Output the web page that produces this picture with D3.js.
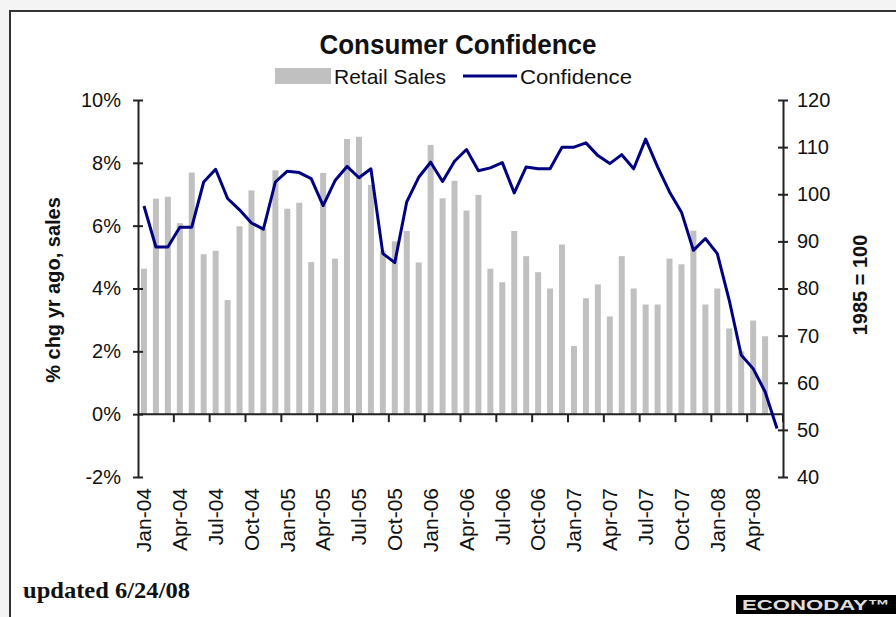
<!DOCTYPE html>
<html>
<head>
<meta charset="utf-8">
<script src="https://cdn.jsdelivr.net/npm/d3@7"></script>
<style>
  body { margin: 0; background: #f4f4f4; }
  svg { display: block; }
  svg text { font-family: "Liberation Sans", Arial, sans-serif; fill: #111; }
</style>
</head>
<body>
<svg></svg>
<script>
let months = [
  'Jan-04','Feb-04','Mar-04','Apr-04','May-04','Jun-04','Jul-04','Aug-04','Sep-04','Oct-04','Nov-04','Dec-04',
  'Jan-05','Feb-05','Mar-05','Apr-05','May-05','Jun-05','Jul-05','Aug-05','Sep-05','Oct-05','Nov-05','Dec-05',
  'Jan-06','Feb-06','Mar-06','Apr-06','May-06','Jun-06','Jul-06','Aug-06','Sep-06','Oct-06','Nov-06','Dec-06',
  'Jan-07','Feb-07','Mar-07','Apr-07','May-07','Jun-07','Jul-07','Aug-07','Sep-07','Oct-07','Nov-07','Dec-07',
  'Jan-08','Feb-08','Mar-08','Apr-08','May-08','Jun-08'
]

// retail sales, % chg yr ago (no figure yet for Jun-08)
let retail = [
  4.63, 6.86, 6.92, 6.08, 7.69, 5.09, 5.20, 3.63, 5.98, 7.12, 5.90, 7.76,
  6.54, 6.73, 4.84, 7.68, 4.95, 8.76, 8.83, 7.30, 5.20, 5.50, 5.83, 4.83,
  8.57, 6.87, 7.43, 6.48, 6.98, 4.63, 4.20, 5.83, 5.03, 4.52, 4.00, 5.40,
  2.17, 3.69, 4.13, 3.11, 5.03, 4.00, 3.49, 3.49, 4.95, 4.77, 5.84, 3.49,
  4.00, 2.73, 2.00, 2.98, 2.48, null
]

// consumer confidence, 1985 = 100
let confidence = [
  97.5, 88.8, 88.8, 93.0, 93.0, 102.6, 105.3, 99.1, 96.7, 93.9, 92.6, 102.6,
  104.9, 104.6, 103.3, 97.6, 102.9, 105.9, 103.5, 105.4, 87.4, 85.5, 98.4, 103.6,
  106.8, 102.7, 107.0, 109.5, 105.0, 105.6, 106.7, 100.3, 105.8, 105.4, 105.4, 110.0,
  110.0, 110.9, 108.2, 106.5, 108.4, 105.4, 111.7, 105.8, 100.5, 96.2, 88.1, 90.6,
  87.4, 77.5, 65.9, 63.0, 58.1, 50.3
]

let xTickLabels = ['Jan-04','Apr-04','Jul-04','Oct-04','Jan-05','Apr-05','Jul-05','Oct-05','Jan-06',
  'Apr-06','Jul-06','Oct-06','Jan-07','Apr-07','Jul-07','Oct-07','Jan-08','Apr-08']
let leftTicks = [-2, 0, 2, 4, 6, 8, 10]
let rightTicks = [40, 50, 60, 70, 80, 90, 100, 110, 120]

let width = 896
let height = 617
let plotLeft = 138
let plotRight = 783
let plotTop = 100
let plotBottom = 477

let svg = d3.select('svg').attr('width', width).attr('height', height)

// frame
svg.append('rect')
    .attr('x', 10).attr('y', 11)
    .attr('width', 900).attr('height', 620)
    .attr('fill', '#fff')
    .attr('stroke', '#333')
    .attr('stroke-width', 2)

let xScale = d3.scaleBand().domain(months).range([plotLeft, plotRight])
let bw = xScale.bandwidth()
let yLeft = d3.scaleLinear().domain([-2, 10]).range([plotBottom, plotTop])
let yRight = d3.scaleLinear().domain([40, 120]).range([plotBottom, plotTop])

// bars
svg.append('g')
    .selectAll('rect')
    .data(months.map((m, i) => ({ m: m, v: retail[i] })).filter(d => d.v != null))
    .enter()
    .append('rect')
    .attr('x', d => xScale(d.m) + bw / 2 - 3)
    .attr('width', 6)
    .attr('y', d => yLeft(d.v))
    .attr('height', d => yLeft(0) - yLeft(d.v))
    .attr('fill', '#c0c0c0')

// left axis
let yAxisL = d3.axisLeft(yLeft).tickValues(leftTicks).tickFormat(d => d + '%').tickSize(5).tickSizeOuter(0)
let gL = svg.append('g').attr('transform', 'translate(' + plotLeft + ',0)').call(yAxisL)
gL.selectAll('line').attr('x1', 5)
gL.selectAll('text').attr('x', -17).style('font-size', '20px')

// right axis
let yAxisR = d3.axisRight(yRight).tickValues(rightTicks).tickSize(5).tickSizeOuter(0)
let gR = svg.append('g').attr('transform', 'translate(' + plotRight + ',0)').call(yAxisR)
gR.selectAll('line').attr('x1', -5)
gR.selectAll('text').attr('x', 14).style('font-size', '20px')

// x axis at 0%
svg.append('line')
    .attr('x1', plotLeft).attr('x2', plotRight)
    .attr('y1', yLeft(0)).attr('y2', yLeft(0))
    .attr('stroke', '#222').attr('stroke-width', 2)

let tickIdx = d3.range(3, months.length + 1, 3)
svg.append('g')
    .selectAll('line')
    .data(tickIdx)
    .enter()
    .append('line')
    .attr('x1', i => i < months.length ? xScale(months[i]) : plotRight)
    .attr('x2', i => i < months.length ? xScale(months[i]) : plotRight)
    .attr('y1', yLeft(0)).attr('y2', yLeft(0) + 8)
    .attr('stroke', '#222').attr('stroke-width', 2)

let xAxis = d3.axisBottom(xScale).tickValues(xTickLabels).tickSize(0).tickSizeOuter(0)
let gX = svg.append('g').attr('transform', 'translate(0,' + plotBottom + ')').call(xAxis)
gX.select('.domain').remove()
gX.selectAll('text')
    .attr('transform', 'rotate(-90)')
    .attr('x', -11).attr('y', 0).attr('dy', '0.35em')
    .style('text-anchor', 'end')
    .style('font-size', '21px')

svg.selectAll('.domain').attr('stroke', '#222').attr('stroke-width', 2)
svg.selectAll('.tick line').attr('stroke', '#222').attr('stroke-width', 2)

// confidence line
let line = d3.line()
    .x((d, i) => xScale(months[i]) + bw / 2)
    .y(d => yRight(d))

svg.append('path')
    .datum(confidence)
    .attr('d', line)
    .attr('fill', 'none')
    .attr('stroke', '#000080')
    .attr('stroke-width', 3)
    .attr('stroke-linejoin', 'round')

// titles
svg.append('text')
    .attr('x', 458).attr('y', 54)
    .attr('text-anchor', 'middle')
    .style('font-size', '27px').style('font-weight', 700)
    .attr('textLength', 277).attr('lengthAdjust', 'spacingAndGlyphs')
    .text('Consumer Confidence')

svg.append('text')
    .attr('transform', 'translate(60,290) rotate(-90)')
    .attr('text-anchor', 'middle')
    .style('font-size', '20px').style('font-weight', 700)
    .text('% chg yr ago, sales')

svg.append('text')
    .attr('transform', 'translate(867,285) rotate(-90)')
    .attr('text-anchor', 'middle')
    .style('font-size', '20px').style('font-weight', 700)
    .text('1985 = 100')

// legend
svg.append('rect')
    .attr('x', 275).attr('y', 68).attr('width', 56).attr('height', 16)
    .attr('fill', '#c0c0c0')
svg.append('text')
    .attr('x', 334).attr('y', 84)
    .style('font-size', '21px')
    .attr('textLength', 112).attr('lengthAdjust', 'spacingAndGlyphs')
    .text('Retail Sales')
svg.append('line')
    .attr('x1', 463).attr('x2', 517).attr('y1', 76).attr('y2', 76)
    .attr('stroke', '#000080').attr('stroke-width', 3)
svg.append('text')
    .attr('x', 520).attr('y', 84)
    .style('font-size', '21px')
    .attr('textLength', 112).attr('lengthAdjust', 'spacingAndGlyphs')
    .text('Confidence')

// footer
svg.append('text')
    .attr('x', 23).attr('y', 598)
    .style('font-family', '"Liberation Serif", "Times New Roman", serif')
    .style('font-size', '23px').style('font-weight', 700)
    .attr('textLength', 167).attr('lengthAdjust', 'spacingAndGlyphs')
    .text('updated 6/24/08')

svg.append('rect')
    .attr('x', 736).attr('y', 595).attr('width', 170).attr('height', 19)
    .attr('fill', '#000')
svg.append('text')
    .attr('x', 742).attr('y', 610)
    .style('font-size', '15px').style('font-weight', 700)
    .style('fill', '#ddd')
    .attr('textLength', 148).attr('lengthAdjust', 'spacingAndGlyphs')
    .text('ECONODAY\u2122')
</script>
</body>
</html>
